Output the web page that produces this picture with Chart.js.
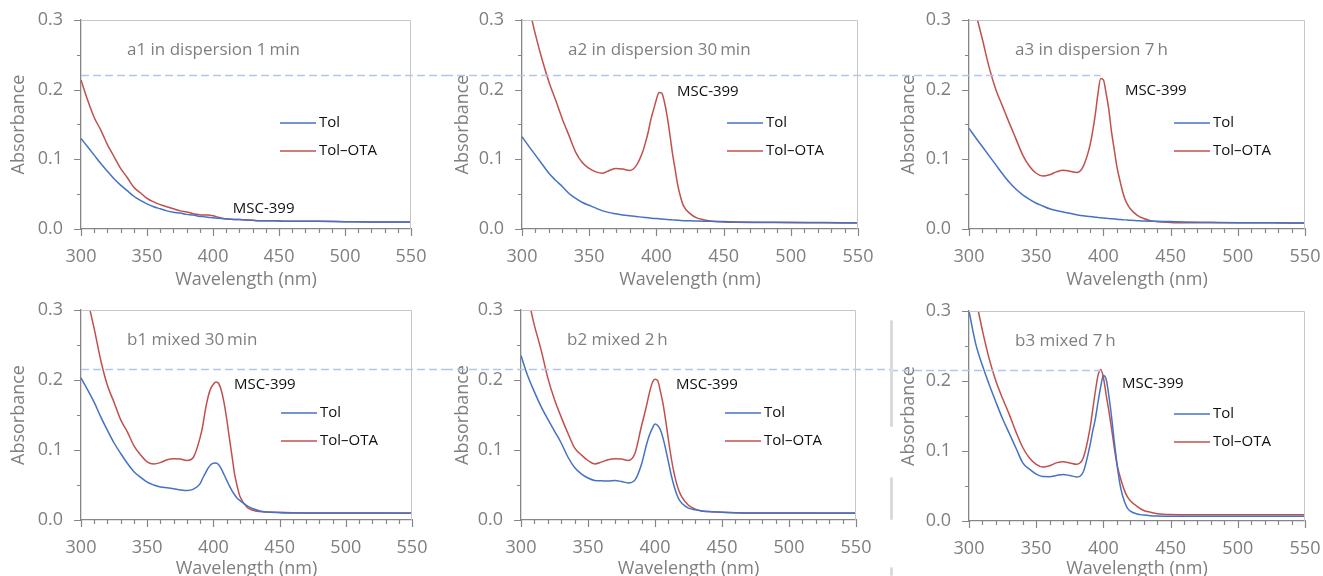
<!DOCTYPE html>
<html>
<head>
<meta charset="utf-8">
<script src="https://cdn.jsdelivr.net/npm/chart.js@4.4.1/dist/chart.umd.min.js"></script>
<style>
  body { margin: 0; background: #fff; }
  #wrap { position: relative; width: 1323px; height: 576px; overflow: hidden; background: #fff; }
  canvas { position: absolute; }
  .seam { position: absolute; left: 890px; width: 3px; background: #dadada; border-radius: 2px; }
</style>
</head>
<body>
<div id="wrap">
  <canvas id="c0"></canvas><canvas id="c1"></canvas><canvas id="c2"></canvas>
  <canvas id="c3"></canvas><canvas id="c4"></canvas><canvas id="c5"></canvas>
  <div class="seam" style="top:320px;height:107px"></div>
  <div class="seam" style="top:477px;height:43px"></div>
  <div class="seam" style="top:567px;height:9px"></div>
</div>
<script>
// wavelengths (nm), shared by all spectra
const wavelengths = [300, 305, 310, 315, 320, 325, 330, 335, 340, 345, 350, 355, 360, 365, 370, 375, 380, 385, 390,
  392, 394, 396, 398, 400, 402, 404, 406, 408, 410, 412, 414, 416, 418, 420, 425, 430, 435, 440, 450, 460, 480, 500, 525, 550];

// absorbance
const a1Tol = [.130, .118, .106, .094, .083, .072, .063, .055, .047, .041, .036, .032, .029, .026, .024, .023, .021, .020, .018,
  .0178, .0174, .017, .0165, .016, .0157, .0153, .015, .0148, .0145, .0143, .014, .0138, .0137, .0135, .013, .0125, .012, .012, .0115, .011, .011, .0105, .010, .010];
const a1Ota = [.214, .185, .160, .142, .121, .104, .087, .074, .060, .052, .044, .039, .035, .032, .029, .026, .0245, .022, .0205,
  .0202, .020, .020, .0197, .019, .018, .0168, .0158, .015, .0145, .0143, .014, .0138, .0137, .0135, .013, .0125, .012, .012, .0115, .011, .011, .0105, .010, .010];

const a2Tol = [.1325, .119, .106, .093, .080, .070, .061, .051, .044, .038, .034, .030, .026, .0235, .0218, .020, .019, .018, .0168,
  .0164, .016, .0156, .0152, .0149, .0146, .0143, .014, .0137, .0134, .0131, .0128, .0125, .0122, .012, .0118, .0115, .0112, .011, .0106, .0102, .0098, .0096, .0093, .009];
const a2Ota = [.36, .32, .279, .243, .2115, .185, .158, .134, .110, .095, .087, .082, .080, .084, .087, .086, .084, .091, .112,
  .125, .140, .158, .172, .186, .196, .195, .182, .162, .136, .108, .085, .062, .046, .034, .022, .016, .0134, .0115, .010, .0096, .0094, .009, .009, .0086];

const a3Tol = [.1445, .131, .118, .105, .092, .079, .067, .057, .049, .0425, .037, .033, .029, .0265, .0245, .0225, .0206, .019, .018,
  .0175, .017, .0165, .016, .0158, .0155, .015, .0147, .0144, .014, .0137, .0134, .0131, .0128, .0125, .012, .0115, .0112, .011, .0106, .0102, .0096, .009, .0088, .0086];
const a3Ota = [.35, .31, .272, .232, .200, .176, .152, .129, .106, .090, .080, .076, .078, .082, .0845, .083, .081, .090, .120,
  .140, .165, .195, .216, .214, .195, .172, .140, .115, .090, .072, .056, .043, .035, .029, .020, .015, .012, .0105, .0095, .009, .009, .009, .0088, .0086];

const b1Tol = [.203, .186, .168, .147, .128, .110, .095, .081, .069, .061, .054, .050, .047, .046, .0447, .043, .042, .044, .052,
  .060, .067, .074, .079, .081, .0815, .079, .073, .065, .057, .049, .042, .036, .031, .028, .021, .016, .013, .0115, .0105, .010, .010, .010, .010, .010];
const b1Ota = [.36, .315, .273, .2275, .192, .168, .143, .126, .106, .093, .083, .080, .082, .086, .0874, .087, .085, .090, .118,
  .135, .158, .176, .188, .194, .197, .195, .185, .168, .145, .118, .092, .066, .048, .034, .019, .0138, .012, .0114, .011, .0105, .010, .010, .010, .0095];

const b2Tol = [.235, .206, .183, .162, .144, .127, .110, .090, .075, .066, .060, .0565, .056, .0556, .0565, .055, .053, .057, .080,
  .095, .110, .122, .131, .137, .135, .129, .117, .101, .083, .065, .050, .038, .029, .024, .017, .0145, .013, .012, .011, .0105, .010, .010, .010, .010];
const b2Ota = [.36, .32, .278, .243, .203, .172, .147, .124, .103, .093, .085, .080, .0827, .086, .0874, .087, .085, .095, .135,
  .150, .166, .183, .196, .201, .199, .184, .166, .142, .115, .090, .069, .053, .041, .033, .021, .0155, .013, .012, .011, .0105, .010, .010, .0098, .0095];

const b3Tol = [.300, .253, .222, .195, .170, .146, .125, .104, .083, .074, .067, .0635, .0633, .065, .0665, .065, .063, .070, .108,
  .128, .146, .170, .192, .208, .203, .180, .150, .115, .083, .056, .038, .026, .018, .014, .010, .0085, .0076, .0072, .0068, .0067, .0067, .0067, .0067, .0067];
const b3Ota = [.36, .318, .272, .232, .200, .175, .152, .127, .105, .090, .081, .077, .079, .083, .0848, .083, .081, .090, .132,
  .158, .185, .208, .2165, .205, .181, .158, .133, .106, .082, .066, .053, .042, .034, .029, .021, .015, .0125, .0105, .0092, .009, .009, .0088, .0088, .0088];

const titles = ['a1 in dispersion 1\u2009min', 'a2 in dispersion 30\u2009min', 'a3 in dispersion 7\u2009h',
  'b1 mixed 30\u2009min', 'b2 mixed 2\u2009h', 'b3 mixed 7\u2009h'];
const seriesNames = ['Tol', 'Tol\u2013OTA'];
const peakName = 'MSC-399';
const xTicks = [300, 350, 400, 450, 500, 550];
const yTicks = [0, 0.1, 0.2, 0.3];
// where "MSC-399" sits, in wavelength / absorbance
const peakLabelX = [415, 415.3, 416, 415.5, 415.7, 413.8];
const peakLabelY = [0.0287, 0.1967, 0.198, 0.193, 0.193, 0.196];
// dashed reference level for each row
const refLevel = [0.221, 0.216];

const BLUE = '#4472c4', RED = '#c0504d', GREY = '#7f7f7f', AXIS = '#868686';
const FONT = "'Open Sans', sans-serif";

// canvas box [left, top, w, h] and plot box [L, R, T, B] in page pixels
const panels = [
  { tol: a1Tol, ota: a1Ota, box: [0, 0, 445, 290],   plot: [81, 411, 20, 229],  dash: 'right' },
  { tol: a2Tol, ota: a2Ota, box: [445, 0, 445, 290], plot: [522, 858, 20, 229], dash: 'full' },
  { tol: a3Tol, ota: a3Ota, box: [890, 0, 433, 290], plot: [969, 1305, 20, 229], dash: 'left' },
  { tol: b1Tol, ota: b1Ota, box: [0, 290, 445, 286], plot: [81, 412, 310, 520], dash: 'right' },
  { tol: b2Tol, ota: b2Ota, box: [445, 290, 445, 286], plot: [521, 856, 310, 520], dash: 'full' },
  { tol: b3Tol, ota: b3Ota, box: [890, 290, 433, 286], plot: [969, 1305, 311, 521], dash: 'left' }
];

const decor = {
  id: 'decor',
  afterDraw(chart) {
    const p = chart.options.plugins.decor;
    const { ctx, chartArea: a, scales: { x, y } } = chart;
    ctx.save();
    // light frame on top and right
    ctx.strokeStyle = '#c6c6c6';
    ctx.lineWidth = 1;
    ctx.beginPath();
    ctx.moveTo(a.left, a.top + 0.5);
    ctx.lineTo(a.right - 0.5, a.top + 0.5);
    ctx.lineTo(a.right - 0.5, a.bottom);
    ctx.stroke();

    // tick marks, majors and minors
    ctx.strokeStyle = AXIS;
    ctx.lineWidth = 1.2;
    ctx.beginPath();
    for (let w = 300; w <= 550; w += 10) {
      const px = Math.round(x.getPixelForValue(w)) + 0.5;
      ctx.moveTo(px, a.bottom);
      ctx.lineTo(px, a.bottom + (w % 50 === 0 ? 7 : 4));
    }
    for (let k = 0; k <= 6; k++) {
      const py = Math.round(y.getPixelForValue(k * 0.05)) + 0.5;
      ctx.moveTo(a.left, py);
      ctx.lineTo(a.left - (k % 2 === 0 ? 7 : 4), py);
    }
    ctx.stroke();

    // dashed reference level
    const yl = Math.round(y.getPixelForValue(p.level)) + 0.5;
    let x1 = 0, x2 = chart.width;
    if (p.dash === 'right') x1 = a.left;
    if (p.dash === 'left') x2 = x.getPixelForValue(398);
    ctx.strokeStyle = '#b4c7e7';
    ctx.lineWidth = 1.3;
    ctx.setLineDash([8, 4]);
    ctx.beginPath();
    ctx.moveTo(x1, yl);
    ctx.lineTo(x2, yl);
    ctx.stroke();
    ctx.setLineDash([]);

    // panel title
    ctx.fillStyle = GREY;
    ctx.font = '17px ' + FONT;
    ctx.textBaseline = 'middle';
    ctx.textAlign = 'left';
    ctx.fillText(p.title, a.left + 46, a.top + 30);

    // peak label
    ctx.fillStyle = '#111';
    ctx.font = '15px ' + FONT;
    ctx.fillText(peakName, x.getPixelForValue(p.peakX), y.getPixelForValue(p.peakY));

    // legend
    const cols = [BLUE, RED];
    seriesNames.forEach((n, i) => {
      const ly = a.top + 103 + i * 28;
      ctx.strokeStyle = cols[i];
      ctx.lineWidth = 1.5;
      ctx.beginPath();
      ctx.moveTo(a.right - 131, ly);
      ctx.lineTo(a.right - 95, ly);
      ctx.stroke();
      ctx.fillStyle = '#111';
      ctx.fillText(n, a.right - 92, ly);
    });
    ctx.restore();
  }
};

panels.forEach((p, i) => {
  const cv = document.getElementById('c' + i);
  const [L, T, W, H] = p.box;
  const [pl, pr, pt, pb] = p.plot;
  cv.width = W; cv.height = H;
  cv.style.left = L + 'px'; cv.style.top = T + 'px';
  const row = i < 3 ? 0 : 1;

  new Chart(cv, {
    type: 'line',
    data: {
      datasets: [
        { label: seriesNames[0], data: wavelengths.map((w, k) => ({ x: w, y: p.tol[k] })), borderColor: BLUE },
        { label: seriesNames[1], data: wavelengths.map((w, k) => ({ x: w, y: p.ota[k] })), borderColor: RED }
      ]
    },
    options: {
      responsive: false,
      animation: false,
      events: [],
      layout: { padding: { top: pt - T, right: L + W - pr, left: 0, bottom: 0 } },
      elements: {
        point: { radius: 0 },
        line: { borderWidth: 1.5, cubicInterpolationMode: 'monotone', fill: false }
      },
      scales: {
        x: {
          type: 'linear', min: 300, max: 550,
          afterBuildTicks: s => { s.ticks = xTicks.map(v => ({ value: v })); },
          afterFit: s => { s.height = T + H - pb; s.paddingLeft = 0; s.paddingRight = 0; },
          grid: { display: false },
          border: { color: AXIS, width: 1.3 },
          ticks: { color: GREY, font: { size: 18, family: FONT }, padding: 9, maxRotation: 0 },
          title: { display: true, text: 'Wavelength (nm)', color: GREY, font: { size: 18, family: FONT },
                   padding: { top: 0, bottom: row ? -4 : -1 } }
        },
        y: {
          min: 0, max: 0.3,
          afterBuildTicks: s => { s.ticks = yTicks.map(v => ({ value: v })); },
          afterFit: s => { s.width = pl - L; s.paddingTop = 0; s.paddingBottom = 0; },
          grid: { display: false },
          border: { color: AXIS, width: 1.3 },
          ticks: { color: GREY, font: { size: 18, family: FONT }, padding: 10, callback: v => v.toFixed(1) },
          title: { display: true, text: 'Absorbance', color: GREY, font: { size: 18, family: FONT },
                   padding: { top: i % 3 === 1 ? 7 : 8, bottom: 0 } }
        }
      },
      plugins: {
        legend: { display: false },
        tooltip: { enabled: false },
        decor: { title: titles[i], peakX: peakLabelX[i], peakY: peakLabelY[i], level: refLevel[row], dash: p.dash }
      }
    },
    plugins: [decor]
  });
});
</script>
</body>
</html>
